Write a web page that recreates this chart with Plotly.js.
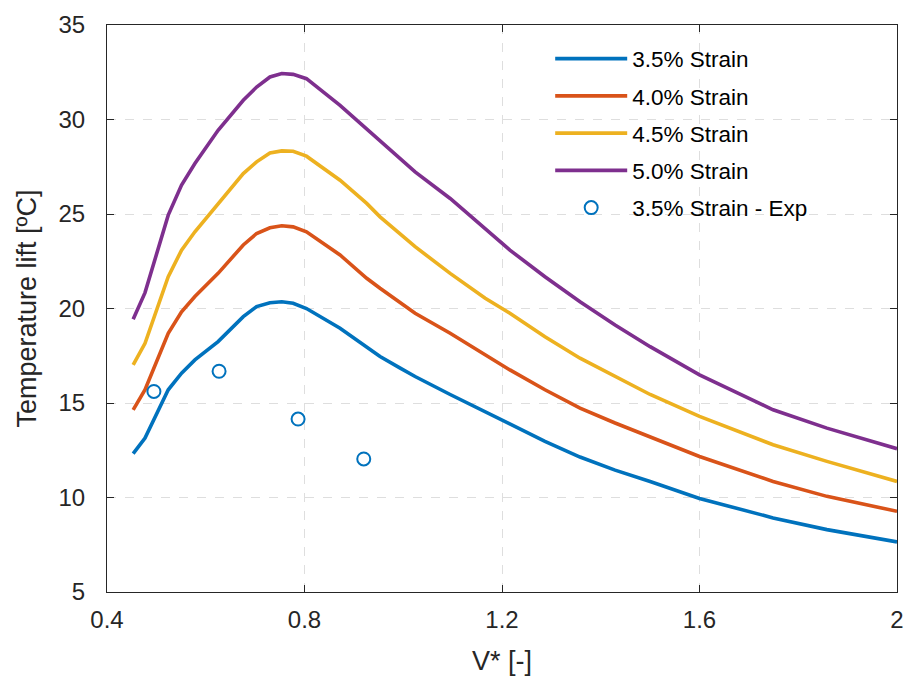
<!DOCTYPE html>
<html>
<head>
<meta charset="utf-8">
<script src="https://cdn.plot.ly/plotly-3.0.1.min.js"></script>
<style>html,body{margin:0;padding:0;background:#fff;}#chart{width:910px;height:678px;}</style>
</head>
<body>
<div id="chart"></div>
<script>
const vStar = [0.453, 0.477, 0.524, 0.551, 0.578, 0.625, 0.676, 0.703, 0.730, 0.754, 0.777, 0.804, 0.872, 0.926, 0.953, 0.993, 1.024, 1.095, 1.166, 1.216, 1.287, 1.358, 1.429, 1.5, 1.6, 1.749, 1.858, 2.0];
const strain35 = [12.32, 13.15, 15.7, 16.58, 17.28, 18.25, 19.57, 20.10, 20.30, 20.36, 20.28, 20.0, 18.96, 17.99, 17.46, 16.86, 16.4, 15.45, 14.55, 13.9, 12.97, 12.14, 11.45, 10.85, 9.95, 8.92, 8.3, 7.65];
const strain40 = [14.64, 15.70, 18.69, 19.83, 20.63, 21.86, 23.36, 23.97, 24.27, 24.38, 24.32, 24.06, 22.83, 21.6, 21.07, 20.3, 19.75, 18.69, 17.55, 16.75, 15.7, 14.73, 13.94, 13.2, 12.17, 10.85, 10.06, 9.27];
const strain45 = [17.02, 18.16, 21.68, 23.09, 24.06, 25.56, 27.14, 27.76, 28.23, 28.34, 28.32, 28.06, 26.79, 25.56, 24.85, 23.96, 23.27, 21.86, 20.54, 19.75, 18.51, 17.37, 16.4, 15.45, 14.29, 12.79, 11.91, 10.85];
const strain50 = [19.43, 20.84, 24.94, 26.53, 27.67, 29.43, 31.02, 31.72, 32.25, 32.43, 32.39, 32.16, 30.75, 29.52, 28.9, 27.95, 27.23, 25.82, 24.24, 23.09, 21.68, 20.36, 19.13, 17.98, 16.49, 14.64, 13.67, 12.58];
const expV = [0.495, 0.627, 0.787, 0.920];
const exp35 = [15.61, 16.68, 14.15, 12.04];
const seriesNames = ['3.5% Strain', '4.0% Strain', '4.5% Strain', '5.0% Strain', '3.5% Strain - Exp'];
const xTicks = [0.4, 0.8, 1.2, 1.6, 2];
const xTickText = ['0.4', '0.8', '1.2', '1.6', '2'];
const yTicks = [5, 10, 15, 20, 25, 30, 35];

const colors = ['#0072BD', '#D95319', '#EDB120', '#7E2F8E'];
const seriesY = [strain35, strain40, strain45, strain50];
const traces = seriesY.map((ys, i) => ({
  x: vStar, y: ys, type: 'scatter', mode: 'lines', name: seriesNames[i],
  line: {color: colors[i], width: 3.6}, legendgroup: 'g' + i
}));
traces.push({
  x: expV, y: exp35, type: 'scatter', mode: 'markers', name: seriesNames[4],
  marker: {symbol: 'circle-open', size: 13, color: '#0072BD', line: {width: 2, color: '#0072BD'}},
  legendgroup: 'g4'
});

const axisCommon = {
  showline: true, linecolor: '#262626', linewidth: 1, mirror: 'ticks',
  ticks: 'inside', ticklen: 7, tickcolor: '#262626', tickwidth: 1,
  showgrid: true, gridcolor: '#dedede', gridwidth: 1, griddash: 'dash',
  zeroline: false, tickfont: {family: 'Liberation Sans, Arial, sans-serif', size: 24, color: '#262626'}
};

const layout = {
  width: 910, height: 678,
  margin: {l: 107, r: 13, t: 25, b: 86},
  paper_bgcolor: '#fff', plot_bgcolor: '#fff',
  showlegend: true,
  legend: {
    x: 0.561, y: 0.978, xanchor: 'left', yanchor: 'top',
    bgcolor: 'rgba(0,0,0,0)', borderwidth: 0,
    font: {family: 'Liberation Sans, Arial, sans-serif', size: 22.5, color: '#000'},
    itemwidth: 72, traceorder: 'grouped', tracegroupgap: 5
  },
  xaxis: Object.assign({}, axisCommon, {
    range: [0.4, 2], tickvals: xTicks, ticktext: xTickText, ticklabelstandoff: 6,
    title: {text: 'V* [-]', standoff: 19, font: {family: 'Liberation Sans, Arial, sans-serif', size: 27, color: '#262626'}}
  }),
  yaxis: Object.assign({}, axisCommon, {
    range: [5, 35], tickvals: yTicks, ticklabelstandoff: 16,
    title: {text: 'Temperature lift [ºC]', standoff: 14, font: {family: 'Liberation Sans, Arial, sans-serif', size: 27, color: '#262626'}}
  })
};

Plotly.newPlot('chart', traces, layout, {displayModeBar: false, staticPlot: true});
</script>
</body>
</html>
